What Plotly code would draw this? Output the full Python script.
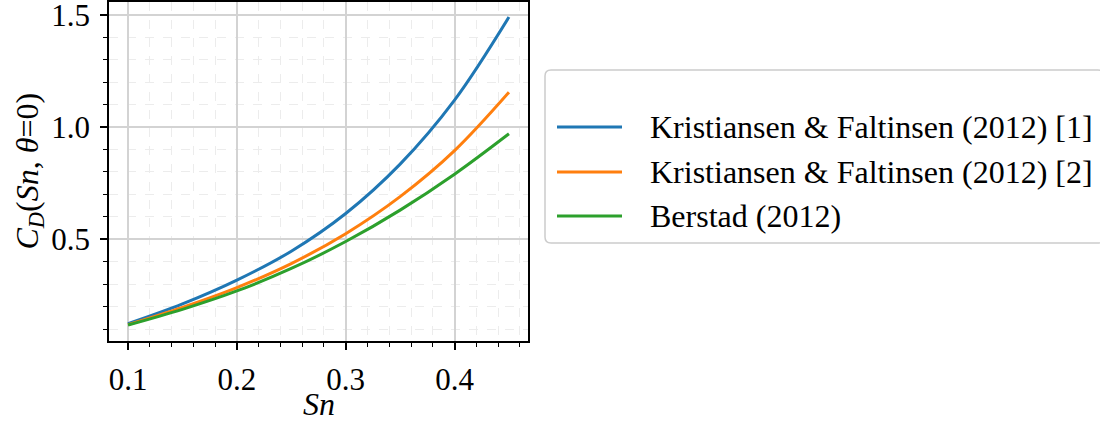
import plotly.graph_objects as go

# Solidity ratio samples
sn = [0.10, 0.15, 0.20, 0.25, 0.30, 0.35, 0.40, 0.45]

# Drag coefficient C_D(Sn, theta=0) for each model
cd_kf1 = [0.124, 0.212, 0.318, 0.447, 0.615, 0.835, 1.120, 1.490]
cd_kf2 = [0.120, 0.197, 0.285, 0.392, 0.525, 0.690, 0.895, 1.155]
cd_berstad = [0.118, 0.188, 0.270, 0.370, 0.490, 0.630, 0.790, 0.970]

series_names = [
    "Kristiansen &amp; Faltinsen (2012) [1]",
    "Kristiansen &amp; Faltinsen (2012) [2]",
    "Berstad (2012)",
]
series_values = [cd_kf1, cd_kf2, cd_berstad]
colors = ["#1f77b4", "#ff7f0e", "#2ca02c"]

FONT = "Liberation Serif, Times New Roman, serif"
FIG_W, FIG_H = 1100, 429
L, R, T, B = 109, 528, 2, 341
W, H = R - L, B - T


def px(x):
    return (x - L) / W


def py(y):
    return (B - y) / H


fig = go.Figure()
for name, vals, col in zip(series_names, series_values, colors):
    fig.add_trace(go.Scatter(
        x=sn, y=vals, mode="lines", name=name,
        line=dict(color=col, width=3, shape="spline", smoothing=1.0),
        showlegend=False,
    ))

axis_common = dict(
    showline=True, linecolor="black", linewidth=1.5, mirror=True,
    ticks="outside", ticklen=7, tickwidth=1.5, tickcolor="black",
    showgrid=True, gridcolor="#d3d3d3", gridwidth=1.5,
    zeroline=False, tickformat=".1f", ticklabeloverflow="allow",
    tickfont=dict(family=FONT, size=31, color="black"),
)

fig.update_xaxes(
    range=[0.0825, 0.4675], tick0=0.1, dtick=0.1,
    minor=dict(dtick=0.02, tick0=0.1, ticks="outside", ticklen=4,
               tickcolor="black", tickwidth=1.2, showgrid=True,
               gridcolor="#ececec", griddash="dash", gridwidth=1),
    ticklabelstandoff=3,
    **axis_common,
)
fig.update_yaxes(
    range=[0.047, 1.557], tick0=0.5, dtick=0.5,
    minor=dict(dtick=0.1, tick0=0.0, ticks="outside", ticklen=4,
               tickcolor="black", tickwidth=1.2, showgrid=True,
               gridcolor="#ececec", griddash="dash", gridwidth=1),
    ticklabelstandoff=4,
    **axis_common,
)

annotations = [
    dict(text="<i>Sn</i>", x=px(318.5), y=py(404), xref="paper", yref="paper",
         showarrow=False, xanchor="center", yanchor="middle",
         font=dict(family=FONT, size=32, color="black")),
    dict(text="<i>C</i><sub><i>D</i></sub>(<i>Sn</i>, <i>θ</i>=0)",
         x=px(29), y=py(171.5), xref="paper", yref="paper", textangle=-90,
         showarrow=False, xanchor="center", yanchor="middle",
         font=dict(family=FONT, size=32, color="black")),
]

# Legend drawn as a rounded box with sample lines and labels
bx0, by0, bx1, by1, rad = 545, 70, 1104, 243, 6
path = (
    f"M {px(bx0 + rad)} {py(by0)} L {px(bx1 - rad)} {py(by0)} "
    f"Q {px(bx1)} {py(by0)} {px(bx1)} {py(by0 + rad)} "
    f"L {px(bx1)} {py(by1 - rad)} Q {px(bx1)} {py(by1)} {px(bx1 - rad)} {py(by1)} "
    f"L {px(bx0 + rad)} {py(by1)} Q {px(bx0)} {py(by1)} {px(bx0)} {py(by1 - rad)} "
    f"L {px(bx0)} {py(by0 + rad)} Q {px(bx0)} {py(by0)} {px(bx0 + rad)} {py(by0)} Z"
)
shapes = [dict(type="path", path=path, xref="paper", yref="paper",
               line=dict(color="#cccccc", width=1.5), fillcolor="rgba(255,255,255,0.8)",
               layer="above")]
row_y = [127, 172, 216]
for name, col, yy in zip(series_names, colors, row_y):
    shapes.append(dict(type="line", xref="paper", yref="paper",
                       x0=px(557), x1=px(622), y0=py(yy), y1=py(yy),
                       line=dict(color=col, width=3), layer="above"))
    annotations.append(dict(text=name, x=px(648), y=py(yy), xref="paper", yref="paper",
                            showarrow=False, xanchor="left", yanchor="middle",
                            font=dict(family=FONT, size=32, color="black")))

fig.update_layout(
    width=FIG_W, height=FIG_H,
    margin=dict(l=L, r=FIG_W - R, t=T, b=FIG_H - B, autoexpand=False),
    paper_bgcolor="white", plot_bgcolor="white",
    annotations=annotations, shapes=shapes,
    showlegend=False,
)

fig.write_html("out.html")
